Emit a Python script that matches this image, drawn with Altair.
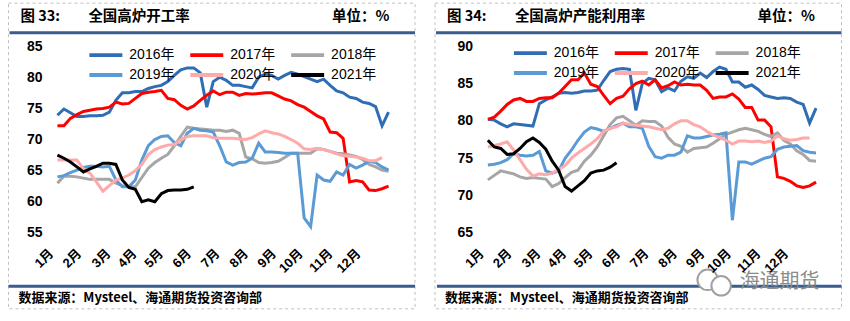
import altair as alt
import pandas as pd

YEARS = ["2016年", "2017年", "2018年", "2019年", "2020年", "2021年"]
COLORS = ["#2F6DB5", "#FF0000", "#A6A6A6", "#5B9BD5", "#FFAAAA", "#000000"]
MONTHS = ["1月", "2月", "3月", "4月", "5月", "6月", "7月", "8月", "9月", "10月", "11月", "12月"]
MONTH_POS = [0, 4.3, 8.8, 12.8, 16.9, 21.2, 25.6, 30.0, 34.3, 38.4, 43.0, 47.3]

# 图33 全国高炉开工率 (weekly)
L2016 = [73.9, 74.9, 74.3, 73.7, 73.7, 73.8, 73.8, 73.9, 74.4, 76.3, 77.5, 77.5, 77.7, 77.7, 78.2, 78.5, 78.7, 79.3, 80.3, 81.2,
         81.5, 81.5, 80.7, 75.2, 79.3, 80.0, 79.5, 78.7, 78.7, 78.5, 78.3, 80.0, 80.5, 80.3, 79.7, 80.3, 80.8, 80.5, 80.1, 79.7,
         79.3, 79.7, 78.7, 77.8, 77.5, 76.8, 76.6, 76.0, 75.8, 75.3, 72.2, 74.4]
L2017 = [72.2, 72.2, 73.4, 74.0, 74.5, 74.7, 74.9, 75.0, 75.2, 76.0, 75.7, 75.8, 76.6, 77.4, 77.6, 77.7, 77.9, 76.6, 76.4, 75.5,
         74.9, 75.4, 76.3, 77.1, 77.8, 77.2, 77.6, 77.6, 77.1, 77.4, 77.3, 77.4, 77.5, 77.5, 77.0, 76.5, 76.2, 75.6, 75.2, 74.5,
         73.8, 73.3, 71.2, 71.1, 70.2, 63.2, 63.4, 63.2, 61.9, 61.8, 62.1, 62.5]
L2018 = [63.0, 64.1, 64.1, 64.0, 63.8, 63.6, 63.6, 63.6, 63.6, 63.0, 62.6, 62.4, 62.4, 63.9, 65.4, 66.3, 67.0, 67.6, 69.0, 70.5,
         72.0, 71.8, 71.7, 71.6, 71.5, 71.5, 71.3, 71.5, 71.0, 67.2, 66.9, 66.3, 66.2, 66.3, 66.5, 67.1, 67.8, 67.8, 67.8, 67.8,
         68.5, 68.4, 68.1, 67.8, 67.7, 67.5, 67.3, 66.8, 66.0, 65.6, 65.1, 64.9]
L2019 = [64.0, 64.2, 64.7, 65.1, 65.5, 65.7, 65.7, 65.6, 65.7, 63.5, 62.4, 62.4, 63.5, 66.7, 69.0, 70.0, 70.5, 70.6, 69.5, 69.0,
         71.0, 71.8, 71.5, 71.4, 71.2, 69.0, 66.4, 65.9, 66.3, 66.4, 67.0, 69.4, 68.0, 68.0, 67.9, 67.8, 67.8, 67.8, 57.4, 56.0,
         64.3, 63.5, 63.3, 64.8, 64.3, 66.0, 65.4, 65.9, 66.5, 66.3, 65.6, 65.1]
L2020 = [66.7, 66.7, 66.7, 66.7, 65.3, 64.6, 63.2, 61.7, 62.6, 63.5, 63.8, 64.3, 65.0, 66.0, 67.6, 68.4, 68.8, 69.1, 69.2, 69.9,
         70.5, 70.6, 70.6, 70.6, 70.3, 70.2, 70.2, 70.2, 70.1, 70.0, 70.3, 70.9, 71.4, 71.1, 70.9, 70.5, 70.0, 69.4, 68.5, 68.4,
         68.6, 68.4, 68.1, 67.7, 67.4, 67.3, 67.2, 67.0, 66.6, 66.6, 67.1]
L2021 = [67.5, 67.0, 66.4, 65.6, 64.8, 65.3, 65.7, 66.2, 66.2, 66.0, 63.5, 62.3, 62.0, 60.0, 60.3, 60.0, 61.3, 61.8, 61.9, 61.9,
         62.0, 62.4]

# 图34 全国高炉产能利用率 (weekly)
R2016 = [80.2, 80.1, 79.6, 79.2, 79.6, 79.5, 79.4, 79.3, 82.3, 82.8, 83.2, 83.7, 83.8, 83.7, 83.8, 84.0, 84.0, 84.1, 85.4, 86.6,
         86.9, 87.0, 86.9, 81.4, 85.0, 85.7, 85.5, 83.9, 84.4, 84.0, 85.3, 85.9, 85.7, 86.4, 85.8, 86.6, 87.2, 86.9, 85.2, 85.2,
         84.5, 84.8, 84.2, 83.4, 83.2, 83.0, 83.1, 83.0, 82.5, 82.2, 79.7, 81.7]
R2017 = [80.2, 80.5, 81.3, 82.2, 82.8, 83.0, 82.6, 82.6, 83.0, 83.1, 83.1, 83.7, 84.6, 85.5, 85.5, 86.4, 84.9, 84.6, 83.4, 82.3,
         83.0, 83.3, 84.3, 85.0, 85.3, 84.8, 85.5, 84.4, 84.7, 85.2, 84.8, 84.9, 84.8, 84.8, 84.1, 83.0, 83.2, 83.2, 83.6, 82.9,
         81.8, 81.8, 80.1, 80.1, 79.2, 72.5, 72.3, 71.9, 71.3, 71.1, 71.3, 71.8]
R2018 = [72.1, 72.7, 73.3, 73.1, 72.9, 72.5, 72.3, 72.4, 72.3, 72.2, 71.2, 71.6, 72.4, 73.1, 73.4, 74.6, 75.4, 76.5, 78.0, 79.5,
         80.4, 80.6, 80.0, 79.4, 80.0, 79.9, 79.9, 79.3, 77.8, 76.9, 76.6, 75.8, 76.3, 76.4, 76.5, 77.0, 77.6, 78.2, 78.5, 78.8,
         79.0, 78.8, 78.6, 78.2, 77.9, 78.4, 77.4, 76.9, 76.0, 75.5, 74.7, 74.6]
R2019 = [74.1, 74.2, 74.4, 74.8, 75.6, 75.4, 75.3, 75.4, 75.9, 73.3, 73.0, 73.3, 75.0, 76.1, 77.4, 78.5, 79.1, 78.9, 78.6, 79.0,
         79.4, 79.7, 79.2, 79.2, 79.0, 76.6, 75.2, 75.0, 75.4, 75.4, 75.8, 78.0, 77.7, 77.7, 77.9, 78.1, 78.2, 78.4, 66.7, 74.5,
         74.5, 74.2, 74.6, 75.0, 75.2, 76.2, 76.5, 76.6, 76.7, 76.0, 75.8, 75.7]
R2020 = [76.5, 76.7, 76.9, 77.2, 76.1, 74.8, 73.5, 72.6, 72.9, 72.8, 73.0, 73.5, 74.0, 75.0, 75.7, 76.3, 76.9, 77.6, 78.6, 79.0,
         79.2, 79.7, 79.5, 79.4, 79.3, 79.2, 79.0, 78.8, 79.0, 79.6, 80.0, 80.0, 79.5, 79.2, 78.6, 78.1, 77.8, 77.4, 76.9, 77.3,
         77.3, 77.2, 77.3, 77.1, 77.3, 78.0, 77.6, 77.4, 77.5, 77.7, 77.7]
R2021 = [77.4, 76.5, 76.3, 75.5, 75.6, 76.3, 77.2, 77.7, 77.1, 76.2, 74.6, 73.4, 71.2, 70.6, 71.3, 72.0, 73.0, 73.3, 73.4, 73.8,
         74.4]

LEFT_Y = [55, 60, 65, 70, 75, 80, 85]
RIGHT_Y = [65, 70, 75, 80, 85, 90]

NUM_FONT = "Liberation Sans, Noto Sans CJK SC"
CJK_FONT = "Noto Sans CJK SC"
BAR = "#3A5D8D"
one = pd.DataFrame({"k": [0]})


def to_long(series):
    rows = []
    for yr, vals in zip(YEARS, series):
        for i, v in enumerate(vals):
            rows.append({"week": i + 1, "value": v, "year": yr})
    return pd.DataFrame(rows)


label_expr = ("[" + ",".join("'%s'" % m for m in MONTHS) + "][indexof(["
              + ",".join(str(p) for p in MONTH_POS) + "], datum.value)]")


def txt(text, x, y, size, color="black", weight="bold", font=CJK_FONT):
    return alt.Chart(one).mark_text(text=text, align="left", baseline="middle", fontSize=size,
                                    fontWeight=weight, color=color, font=font).encode(
        x=alt.value(x), y=alt.value(y))


def rect(x, x2, y, y2, **kw):
    return alt.Chart(one).mark_rect(**kw).encode(
        x=alt.value(x), x2=alt.value(x2), y=alt.value(y), y2=alt.value(y2))


def lines(df, ydom, yvals, lx, ly):
    return alt.Chart(df).mark_line(strokeWidth=3).encode(
        x=alt.X("week:Q", scale=alt.Scale(domain=[0, 52], nice=False, zero=False),
                axis=alt.Axis(values=MONTH_POS, labelExpr=label_expr, labelAngle=-45, labelAlign="right",
                              labelBaseline="middle", labelPadding=18, labelFontSize=13, labelFontWeight="bold",
                              labelFont=NUM_FONT, labelColor="black", title=None, domain=False, ticks=False,
                              grid=False, labelOverlap=False, labelBound=False, labelFlush=False, zindex=1)),
        y=alt.Y("value:Q", scale=alt.Scale(domain=ydom, nice=False, zero=False),
                axis=alt.Axis(values=yvals, labelPadding=9, labelFontSize=14, labelFontWeight="bold",
                              labelFont=NUM_FONT, labelColor="black", title=None, domain=False, ticks=False,
                              grid=False, labelOverlap=False, labelBound=False, labelFlush=False, zindex=1)),
        color=alt.Color("year:N", scale=alt.Scale(domain=YEARS, range=COLORS),
                        legend=alt.Legend(title=None, orient="none", legendX=lx, legendY=ly, columns=3,
                                          direction="horizontal", symbolType="stroke", symbolSize=1089,
                                          symbolStrokeWidth=4, labelFontSize=14, labelFont=NUM_FONT,
                                          labelColor="black", labelOffset=5, columnPadding=13, rowPadding=4,
                                          clipHeight=16, labelLimit=200, padding=0)),
    )


left = alt.layer(
    rect(-50.5, 799.5, -46, 275, fill="white", fillOpacity=0, strokeOpacity=0),
    rect(-42.5, 364.5, -43, 263, fillOpacity=0, stroke="#C0C0C0", strokeDash=[3, 3], strokeWidth=1),
    rect(-41.5, 364.5, -15, -12, fill=BAR),
    rect(-42.5, 364.5, 239, 242, fill=BAR),
    txt("图 33:", -30.5, -29, 14.5),
    txt("全国高炉开工率", 37.5, -29, 14.5),
    txt("单位：%", 281.5, -29, 14.5),
    txt("数据来源：Mysteel、海通期货投资咨询部", -32.5, 252, 13),
    lines(to_long([L2016, L2017, L2018, L2019, L2020, L2021]), [55, 85], LEFT_Y, 36.5, 1),
).properties(width=338, height=187)

right = alt.layer(
    rect(-46.5, 360.5, -43, 263, fillOpacity=0, stroke="#C0C0C0", strokeDash=[3, 3], strokeWidth=1),
    rect(-45.5, 360.5, -15, -12, fill=BAR),
    rect(-44.5, 360.5, 239, 242, fill=BAR),
    txt("图 34:", -34.5, -29, 14.5),
    txt("全国高炉产能利用率", 33.5, -29, 14.5),
    txt("单位：%", 276.5, -29, 14.5),
    txt("数据来源：Mysteel、海通期货投资咨询部", -36.5, 252, 13),
    alt.Chart(one).mark_point(shape="circle", size=420, filled=False, stroke="#A0A0A0", strokeWidth=2,
                              fill="white", fillOpacity=1).encode(x=alt.value(226.5), y=alt.value(234)),
    alt.Chart(one).mark_point(shape="circle", size=380, filled=False, stroke="#A0A0A0", strokeWidth=2,
                              fill="white", fillOpacity=1).encode(x=alt.value(240), y=alt.value(240)),
    txt("海通期货", 258.5, 236, 20, color="#8C8C8C", weight="normal"),
    lines(to_long([R2016, R2017, R2018, R2019, R2020, R2021]), [65, 90], RIGHT_Y, 30.5, -1),
).properties(width=335, height=187)

chart = (alt.hconcat(left, right, spacing=93, bounds="flush")
         .resolve_scale(color="independent")
         .resolve_legend(color="independent")
         .properties(padding=0)
         .configure_view(stroke=None))

chart.save("out.html", embed_options={"renderer": "svg", "actions": False})
